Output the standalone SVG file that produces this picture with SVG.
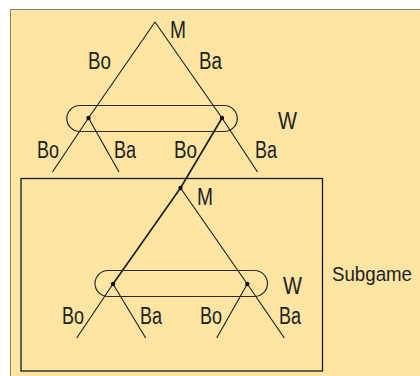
<svg xmlns="http://www.w3.org/2000/svg" width="420" height="376" viewBox="0 0 420 376">
<style>
.t{font-family:"Liberation Sans",Arial,sans-serif;font-size:23px;fill:#222}
.s{font-size:20.5px}
.e{stroke:#1a1a1a;stroke-width:1.1;fill:none}
.b{stroke:#1a1a1a;stroke-width:1.6;fill:none}
.o{stroke:#2a2a2a;stroke-width:1.2;fill:none}
.d{fill:#111}
</style>
<rect x="0" y="0" width="420" height="376" fill="#ffffff"/>
<rect x="10.5" y="9.5" width="420" height="380" fill="#fee5a4" stroke="#8c7f66" stroke-width="1"/>
<rect x="21" y="178.5" width="301.5" height="192.5" fill="none" stroke="#1a1a1a" stroke-width="1.3"/>
<g id="connectors">
<line class="e" x1="155" y1="22" x2="88.5" y2="118"/>
<line class="e" x1="155" y1="22" x2="222" y2="118"/>
<line class="e" x1="88.5" y1="118" x2="52.5" y2="172"/>
<line class="e" x1="88.5" y1="118" x2="119" y2="172"/>
<line class="b" x1="222" y1="118" x2="180.5" y2="188"/>
<line class="e" x1="222" y1="118" x2="257.5" y2="172"/>
<line class="b" x1="180.5" y1="188" x2="113" y2="284"/>
<line class="e" x1="180.5" y1="188" x2="247.3" y2="284"/>
<line class="e" x1="113" y1="284" x2="76.7" y2="338"/>
<line class="e" x1="113" y1="284" x2="145.7" y2="338"/>
<line class="e" x1="247.3" y1="284" x2="216.7" y2="338"/>
<line class="e" x1="247.3" y1="284" x2="284.3" y2="338"/>
</g>
<g id="node-M1">
<text class="t" x="170" y="38" textLength="16" lengthAdjust="spacingAndGlyphs">M</text>
</g>
<g id="node-W1">
<rect class="o" x="66.8" y="105.5" width="170.5" height="26" rx="13"/>
<circle class="d" cx="88.5" cy="118" r="2.2"/>
<circle class="d" cx="222" cy="118" r="2.2"/>
<text class="t" x="278" y="129" textLength="19" lengthAdjust="spacingAndGlyphs">W</text>
</g>
<g id="labels-top">
<text class="t" x="88" y="69" textLength="23" lengthAdjust="spacingAndGlyphs">Bo</text>
<text class="t" x="199" y="69" textLength="23" lengthAdjust="spacingAndGlyphs">Ba</text>
<text class="t" x="37" y="158" textLength="22" lengthAdjust="spacingAndGlyphs">Bo</text>
<text class="t" x="114" y="158" textLength="22" lengthAdjust="spacingAndGlyphs">Ba</text>
<text class="t" x="174" y="158" textLength="23" lengthAdjust="spacingAndGlyphs">Bo</text>
<text class="t" x="255" y="158" textLength="22" lengthAdjust="spacingAndGlyphs">Ba</text>
</g>
<g id="node-M2">
<circle class="d" cx="180.5" cy="188" r="2.2"/>
<text class="t" x="197" y="205" textLength="16" lengthAdjust="spacingAndGlyphs">M</text>
</g>
<g id="node-W2">
<rect class="o" x="95" y="270.5" width="172.5" height="26" rx="13"/>
<circle class="d" cx="113" cy="284" r="2.2"/>
<circle class="d" cx="247.3" cy="284" r="2.2"/>
<text class="t" x="283" y="294" textLength="19" lengthAdjust="spacingAndGlyphs">W</text>
</g>
<g id="labels-sub">
<text class="t" x="62" y="324" textLength="22" lengthAdjust="spacingAndGlyphs">Bo</text>
<text class="t" x="140" y="324" textLength="22" lengthAdjust="spacingAndGlyphs">Ba</text>
<text class="t" x="200" y="324" textLength="22" lengthAdjust="spacingAndGlyphs">Bo</text>
<text class="t" x="279" y="324" textLength="22" lengthAdjust="spacingAndGlyphs">Ba</text>
</g>
<g id="node-subgame">
<text class="t s" x="332" y="281" textLength="80" lengthAdjust="spacingAndGlyphs">Subgame</text>
</g>
</svg>
